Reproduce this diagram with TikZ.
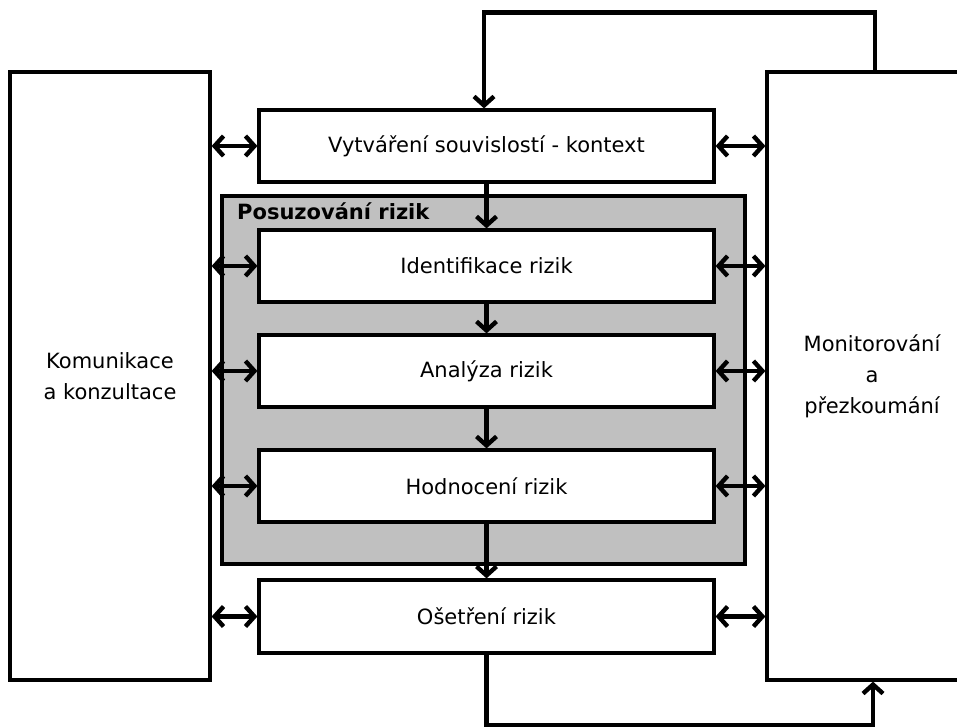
\documentclass[tikz,border=0pt]{standalone}
\usepackage{fontspec}
\setmainfont{DejaVu Sans}
\usetikzlibrary{arrows.meta}
\definecolor{psgray}{RGB}{192,192,192}
\tikzset{
  box/.style={draw=black, line width=3.2pt, fill=white, inner sep=0pt, minimum width=455pt, minimum height=72pt, font=\fontsize{21pt}{31pt}\selectfont, align=center},
  side/.style={box, minimum width=200pt, minimum height=608pt},
  tip/.style={Straight Barb[length=9pt,width=20pt]},
  flow/.style={line width=4.4pt, -{Straight Barb[length=9pt,width=20pt]}},
  both/.style={line width=4.4pt, {Straight Barb[length=9pt,width=20pt]}-{Straight Barb[length=9pt,width=20pt]}},
  back/.style={line width=4.4pt, -{Straight Barb[length=9pt,width=20pt]}}
}
\begin{document}
\begin{tikzpicture}[x=1pt,y=-1pt]
\clip (0,0) rectangle (957,727);
\fill[white] (0,0) rectangle (957,727);
\node[side] (kom) at (110,376) {Komunikace\\a konzultace};
\node[side, minimum width=210pt] (mon) at (872,376) {Monitorování\\a\\přezkoumání};
\node[draw=black, line width=3.2pt, fill=psgray, minimum width=523pt, minimum height=368pt, inner sep=0pt] (ps) at (483.5,380) {};
\node[anchor=base west, inner sep=0pt, font=\fontsize{21pt}{24pt}\selectfont\bfseries] (pslabel) at (237,219) {Posuzování rizik};
\node[box] (ctx) at (486.5,146) {Vytváření souvislostí - kontext};
\node[box] (ident) at (486.5,266) {Identifikace rizik};
\node[box] (anal) at (486.5,371) {Analýza rizik};
\node[box] (hodn) at (486.5,486) {Hodnocení rizik};
\node[box, minimum height=73pt] (oset) at (486.5,616.5) {Ošetření rizik};
\draw[flow] (ctx.south) -- (ident.north);
\draw[flow] (ident.south) -- (anal.north);
\draw[flow] (anal.south) -- (hodn.north);
\draw[flow] (hodn.south) -- (oset.north);
\foreach \b in {ctx,ident,anal,hodn,oset}{
  \draw[both] (\b.west -| kom.east) -- (\b.west);
  \draw[both] (\b.east) -- (\b.east -| mon.west);
}
\draw[back] ([xshift=3pt]mon.north) -- ++(0,-58) -| ([xshift=-2.5pt]ctx.north);
\draw[back] (oset.south) -- ++(0,70.5) -| ([xshift=1pt]mon.south);
\end{tikzpicture}
\end{document}
